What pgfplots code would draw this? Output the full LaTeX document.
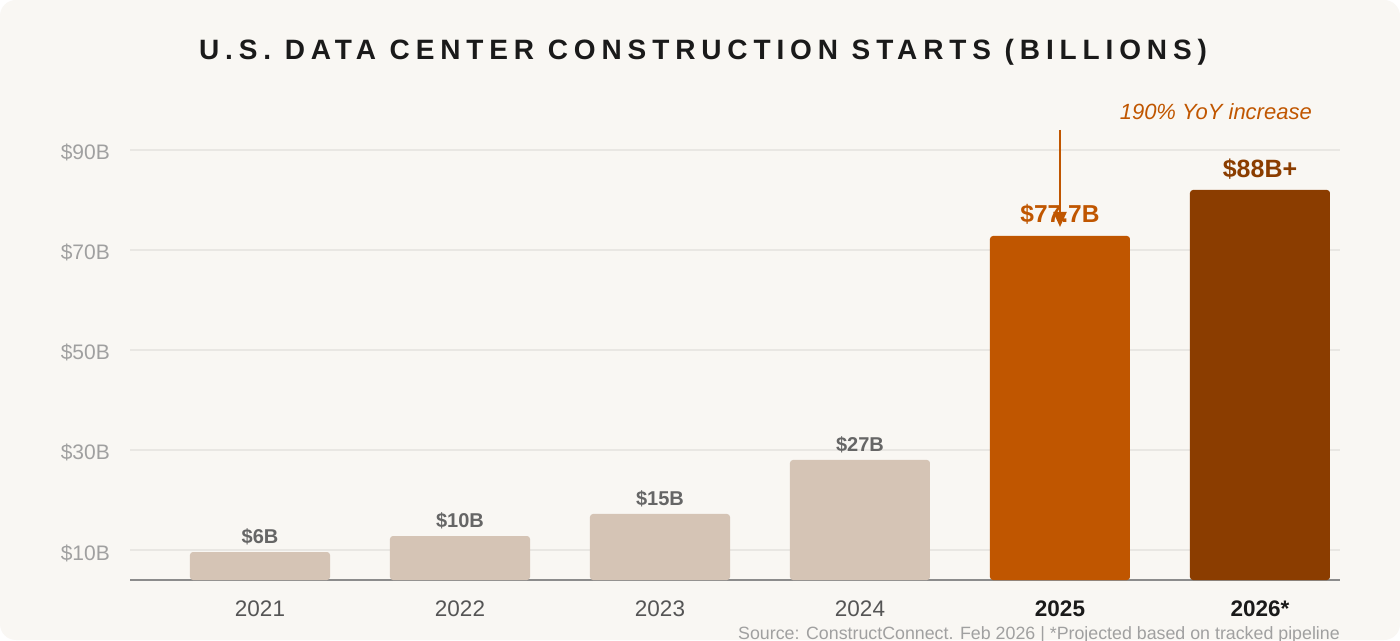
\documentclass[border=0pt]{standalone}
\usepackage{pgfplots}
\pgfplotsset{compat=1.18}
\usepackage{fontspec}
\setmainfont{Liberation Sans}
\newfontfamily\titlefont[LetterSpace=21]{Liberation Sans}
\usetikzlibrary{arrows.meta}
\definecolor{bg}{HTML}{F9F7F3}
\definecolor{titlec}{HTML}{1A1A1A}
\definecolor{beige}{HTML}{D5C4B5}
\definecolor{orangec}{HTML}{C05600}
\definecolor{brownc}{HTML}{8B3D00}
\definecolor{vallab}{HTML}{666666}
\definecolor{xlab}{HTML}{555555}
\definecolor{ylab}{HTML}{A0A0A0}
\definecolor{gridc}{HTML}{E9E7E3}
\definecolor{basec}{HTML}{8C8C8C}
\definecolor{srcc}{HTML}{A0A0A0}
\begin{document}
\begin{tikzpicture}[x=1pt,y=1pt]
\useasboundingbox (0,0) rectangle (1400,640);
\fill[white] (0,0) rectangle (1400,640);
\fill[bg, rounded corners=16pt] (0,0) rectangle (1400,640);
\node[anchor=base, text=titlec, inner sep=0pt, font=\titlefont\bfseries\fontsize{28}{34}\selectfont] at (703,580) {U.S. DATA CENTER CONSTRUCTION STARTS (BILLIONS)};
\begin{axis}[
  at={(130pt,60pt)}, anchor=south west,
  scale only axis, width=1210pt, height=480pt,
  xmin=-0.65, xmax=5.4, ymin=4, ymax=100,
  ybar, bar width=140pt, bar shift=0pt,
  axis x line*=bottom, axis y line*=left,
  x axis line style={draw=basec, line width=2pt},
  y axis line style={draw=none},
  major tick length=0pt,
  tick style={draw=none},
  xtick={0,1,2,3,4,5},
  xticklabels={2021,2022,2023,2024,\textbf{\color{titlec}2025},\textbf{\color{titlec}2026*}},
  xticklabel style={anchor=base, inner sep=0pt, yshift=-36pt, text=xlab, font=\fontsize{22.5}{26}\selectfont},
  ytick={10,30,50,70,90},
  yticklabels={\$10B,\$30B,\$50B,\$70B,\$90B},
  yticklabel style={anchor=base east, inner sep=0pt, xshift=-20pt, yshift=-10pt, text=ylab, font=\fontsize{21}{25}\selectfont},
  ymajorgrids, grid style={draw=gridc, line width=1.5pt},
  point meta=explicit symbolic,
  nodes near coords,
]
\addplot[fill=beige, draw=none, rounded corners=3pt,
  every node near coord/.append style={anchor=south, inner sep=0pt, yshift=7pt, text=vallab, font=\bfseries\fontsize{20}{24}\selectfont}]
  coordinates {(0,9.6) [\$6B] (1,12.8) [\$10B] (2,17.2) [\$15B] (3,28) [\$27B]};
\addplot[fill=orangec, draw=none, rounded corners=3pt,
  every node near coord/.append style={anchor=south, inner sep=0pt, yshift=11pt, text=orangec, font=\bfseries\fontsize{24.5}{28}\selectfont}]
  coordinates {(4,72.8) [\$77.7B]};
\addplot[fill=brownc, draw=none, rounded corners=3pt,
  every node near coord/.append style={anchor=south, inner sep=0pt, yshift=10pt, text=brownc, font=\bfseries\fontsize{25}{28}\selectfont}]
  coordinates {(5,82) [\$88B+]};
\draw[orangec, line width=2.2pt, -{Triangle[width=13pt,length=15pt]}] (axis cs:4,94) -- (axis cs:4,74.6);
\end{axis}
\node[anchor=base east, inner sep=0pt, text=orangec, font=\itshape\fontsize{22}{25}\selectfont] at (1312,520) {190\% YoY increase};
\node[anchor=base east, inner sep=0pt, text=srcc, font=\fontsize{17.8}{20}\selectfont] at (1340,1) {Source: ConstructConnect. Feb 2026 | *Projected based on tracked pipeline};
\end{tikzpicture}
\end{document}
